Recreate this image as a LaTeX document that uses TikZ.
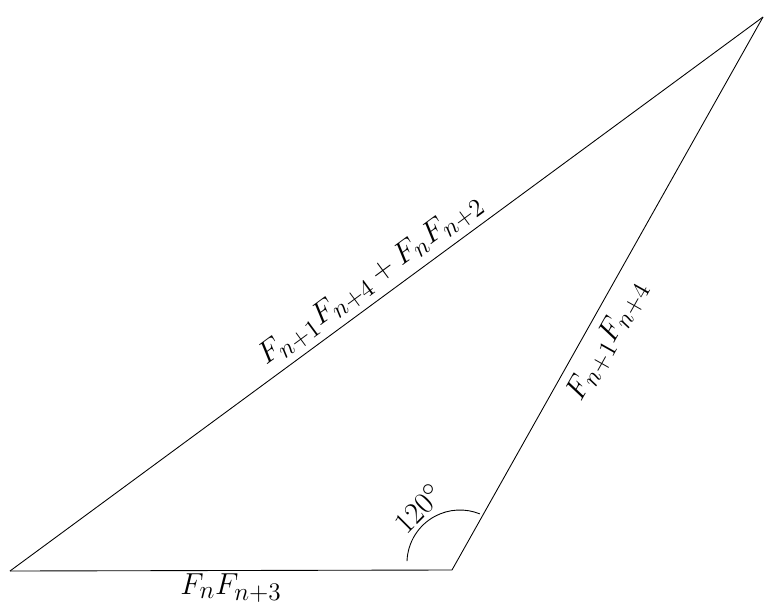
\documentclass[tikz,border=0pt]{standalone}
\usetikzlibrary{calc}
\usepackage{amsmath}
\begin{document}
\begin{tikzpicture}[
    line width=0.5pt,
    biantext/.style={font=\fontsize{19pt}{23pt}\selectfont, inner sep=3pt}
]
    % 画布范围：宽约15.3cm，高约12.14cm
    \useasboundingbox (0, 0) rectangle (15.3, 12.14);

    % 三角形的三个顶点
    \coordinate (A) at (0.2, 0.72);
    \coordinate (B) at (9.04, 0.74);
    \coordinate (C) at (15.26, 11.8);

    % 底边
    \draw (A) -- node[biantext, below, inner sep=1.5pt, pos=0.5] (ab) {$F_nF_{n+3}$} (B);

    % 右边
    \draw (B) -- node[biantext, below=2pt, sloped, pos=0.435] (bc) {$F_{n+1}F_{n+4}$} (C);

    % 长边
    \draw (A) -- node[biantext, above, sloped, pos=0.495] (ac) {$F_{n+1}F_{n+4} + F_nF_{n+2}$} (C);

    % 角度弧，半径约1.06cm
    \coordinate (arcstart) at (8.14, 0.917);
    \draw (arcstart) arc (178:68:1.06);

    % 角度
    \node[biantext, rotate=45] (jiao) at (8.36, 1.98) {$120^\circ$};
\end{tikzpicture}
\end{document}
